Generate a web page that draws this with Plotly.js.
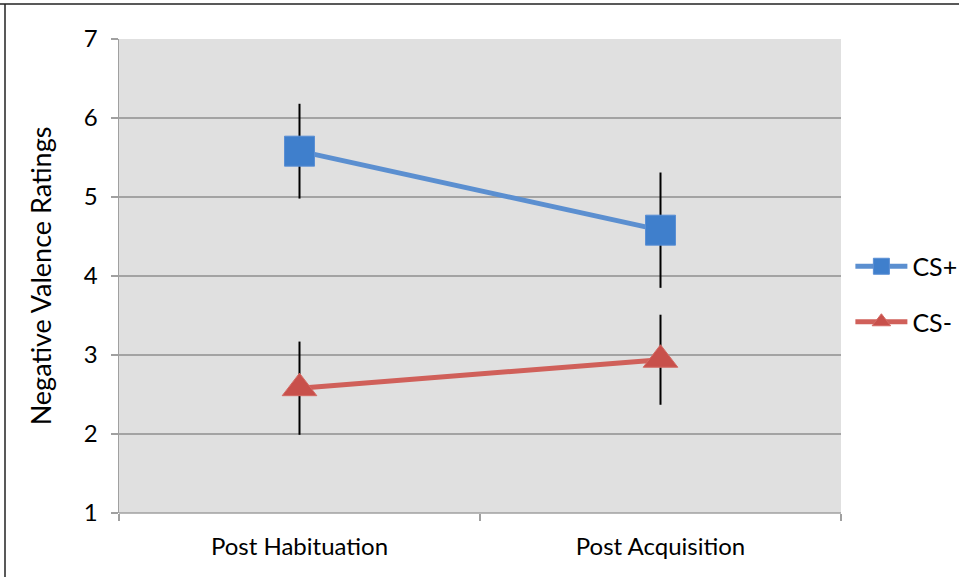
<!DOCTYPE html>
<html>
<head>
<meta charset="utf-8">
<script src="https://cdn.plot.ly/plotly-3.0.1.min.js"></script>
<style>html,body{margin:0;padding:0;background:#fff;}#chart{width:959px;height:577px;}</style>
</head>
<body>
<div id="chart"></div>
<script>
const categories = ["Post Habituation", "Post Acquisition"];
const csPlus = [5.58, 4.58];
const csPlusErr = [0.60, 0.73];
const csMinus = [2.58, 2.94];
const csMinusErr = [0.59, 0.57];
const yTicks = [1, 2, 3, 4, 5, 6, 7];

const FONT = "Lato, 'Open Sans', sans-serif";

const traces = [
  {
    name: "CS+", x: categories, y: csPlus, type: "scatter", mode: "lines+markers",
    legendgroup: "a",
    line: {color: "#5b8fd0", width: 5},
    marker: {symbol: "square", size: 30, color: "#3f7fcc", line: {color: "#5a8fd4", width: 1}},
    error_y: {type: "data", array: csPlusErr, visible: true, color: "#000", thickness: 2, width: 0}
  },
  {
    name: "CS-", x: categories, y: csMinus, type: "scatter", mode: "lines+markers",
    legendgroup: "b",
    line: {color: "#d0605a", width: 5},
    marker: {symbol: "triangle-up", size: 30, color: "#c8504b", line: {color: "#d46a64", width: 1}},
    error_y: {type: "data", array: csMinusErr, visible: true, color: "#000", thickness: 2, width: 0}
  }
];

const layout = {
  width: 959, height: 577,
  margin: {l: 119, r: 118, t: 39, b: 64, autoexpand: false},
  paper_bgcolor: "#ffffff",
  plot_bgcolor: "#e0e0e0",
  font: {family: FONT, size: 24, color: "#000"},
  showlegend: true,
  legend: {
    x: 1.013, xanchor: "left", y: 0.462, yanchor: "middle",
    font: {family: FONT, size: 25, color: "#000"},
    itemwidth: 52, traceorder: "grouped", tracegroupgap: 20,
    bgcolor: "rgba(0,0,0,0)"
  },
  xaxis: {
    type: "category", tickson: "boundaries",
    range: [-0.5, 1.5],
    ticks: "outside", ticklen: 7, tickwidth: 1.5, tickcolor: "#a0a0a0",
    showgrid: false, showline: false, zeroline: false,
    ticklabelstandoff: 17,
    tickfont: {family: FONT, size: 24}
  },
  yaxis: {
    range: [1, 7], tickvals: yTicks,
    ticks: "outside", ticklen: 7, tickwidth: 1.5, tickcolor: "#a0a0a0",
    showgrid: true, gridcolor: "#a3a3a3", gridwidth: 1.5,
    showline: true, linecolor: "#a0a0a0", linewidth: 1.5,
    zeroline: false,
    ticklabelstandoff: 8,
    tickfont: {family: FONT, size: 24},
    title: {text: "Negative Valence Ratings", font: {family: FONT, size: 27}, standoff: 24}
  },
  shapes: [
    {type: "line", xref: "paper", yref: "paper", x0: (0 - 119) / 722, x1: (959 - 119) / 722, y0: (513 - 4) / 474, y1: (513 - 4) / 474, line: {color: "#222", width: 1.5}},
    {type: "line", xref: "paper", yref: "paper", x0: (5 - 119) / 722, x1: (5 - 119) / 722, y0: (513 - 4) / 474, y1: (513 - 580) / 474, line: {color: "#222", width: 1.5}},
    {type: "line", xref: "paper", yref: "paper", x0: 0, x1: 1, y0: 0, y1: 0, line: {color: "#a0a0a0", width: 1.5}}
  ]
};

Plotly.newPlot("chart", traces, layout, {displayModeBar: false, staticPlot: true});
</script>
</body>
</html>
